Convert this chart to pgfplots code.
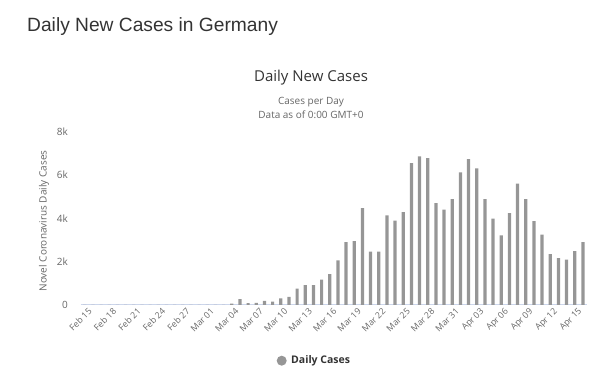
\documentclass[border=0pt]{standalone}
\usepackage{pgfplots}
\pgfplotsset{compat=1.18}
\usepackage{fontspec}
\setmainfont{Open Sans}
\newfontfamily\titlefont{Liberation Sans}
\definecolor{barc}{RGB}{150,150,150}
\definecolor{gridc}{RGB}{230,230,230}
\definecolor{axisc}{RGB}{204,214,235}
\definecolor{txtdark}{RGB}{51,51,51}
\definecolor{txtgray}{RGB}{102,102,102}
\begin{document}
\begin{tikzpicture}[x=1pt,y=1pt]
\path (0,0) rectangle (600,380);
\node[anchor=west,inner sep=0,text=txtdark,font=\titlefont\fontsize{19.2}{23}\selectfont] at (27,353) {Daily New Cases in Germany};
\node[inner sep=0,text=txtdark,font=\fontsize{15}{18}\selectfont] at (311,302) {Daily New Cases};
\node[inner sep=0,text=txtgray,font=\fontsize{10}{12}\selectfont] at (311,278) {Cases per Day};
\node[inner sep=0,text=txtgray,font=\fontsize{10}{12}\selectfont] at (311,265) {Data as of 0:00 GMT+0};
\node[inner sep=0,text=txtgray,rotate=90,font=\fontsize{10}{12}\selectfont] at (44,159) {Novel Coronavirus Daily Cases};
\begin{axis}[
  at={(80.7pt,75pt)}, anchor=south west,
  width=506.3pt, height=173.3pt, scale only axis,
  xmin=-0.5, xmax=61.5, ymin=0, ymax=8000,
  axis y line=none, axis x line*=bottom,
  axis line style={axisc, line width=1pt, -},
  ytick={0,2000,4000,6000,8000},
  yticklabels={0,2k,4k,6k,8k},
  ymajorgrids, grid style={gridc, line width=0.8pt},
  major tick length=0pt,
  xtick={0,3,...,60},
  xticklabels={Feb 15,Feb 18,Feb 21,Feb 24,Feb 27,Mar 01,Mar 04,Mar 07,Mar 10,Mar 13,Mar 16,Mar 19,Mar 22,Mar 25,Mar 28,Mar 31,Apr 03,Apr 06,Apr 09,Apr 12,Apr 15},
  xticklabel style={rotate=45, anchor=north east, text=txtgray, font=\fontsize{8.8}{10}\selectfont, inner sep=0.5pt, yshift=-3pt, xshift=1pt},
  /pgf/number format/assume math mode=true,
  clip=false,
]
\addplot[ybar, bar width=3.2pt, fill=barc, draw=none] coordinates {
(0,0)(1,0)(2,0)(3,0)(4,0)(5,0)(6,0)(7,0)(8,0)(9,0)(10,0)(11,0)(12,0)(13,0)(14,0)(15,0)(16,0)(17,0)
(18,60)(19,270)(20,90)(21,100)(22,185)(23,150)(24,308)(25,370)(26,754)(27,923)(28,923)(29,1170)
(30,1430)(31,2062)(32,2908)(33,2954)(34,4477)(35,2462)(36,2462)(37,4138)(38,3892)(39,4292)
(40,6554)(41,6862)(42,6785)(43,4708)(44,4400)(45,4892)(46,6123)(47,6738)(48,6308)(49,4892)
(50,3985)(51,3215)(52,4246)(53,5600)(54,4892)(55,3877)(56,3246)(57,2354)(58,2169)(59,2092)
(60,2492)(61,2908)
};
\end{axis}
\begin{scope}[every node/.style={anchor=east,inner sep=0,text=txtgray,font=\fontsize{10}{12}\selectfont}]
\node at (68,75) {0};
\node at (68,118.3) {2k};
\node at (68,161.7) {4k};
\node at (68,205) {6k};
\node at (68,248.3) {8k};
\end{scope}
\fill[barc] (281.7,19.3) circle (5);
\node[anchor=west,inner sep=0,text=txtdark,font=\bfseries\fontsize{10.5}{12}\selectfont] at (291,19.3) {Daily Cases};
\end{tikzpicture}
\end{document}
